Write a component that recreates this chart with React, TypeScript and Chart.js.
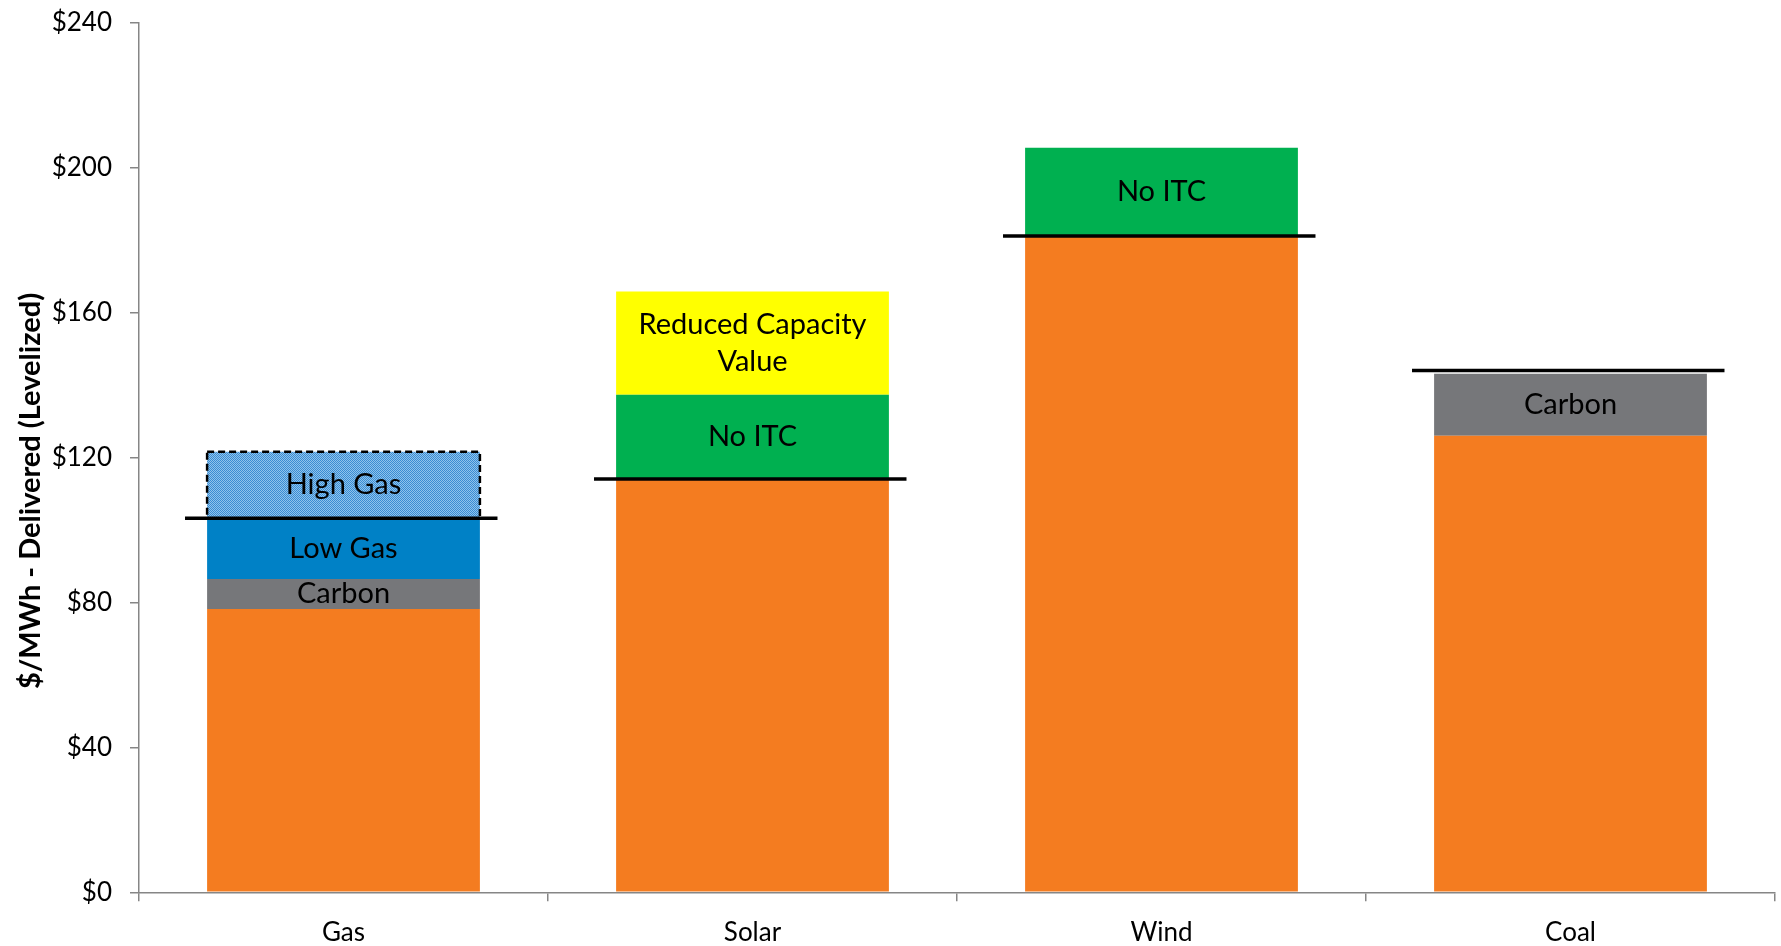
import React, { useEffect, useRef } from "react";
import { Chart, registerables } from "chart.js";

Chart.register(...registerables);

// ---- data ----
const categories = ["Gas", "Solar", "Wind", "Coal"];
const baseCost = [78.2, 114.1, 181.1, 126.0];
const carbonAdder = [8.3, null, null, 17.1];
const lowGasAdder = [16.7, null, null, null];
const highGasAdder = [18.4, null, null, null];
const noItcAdder = [null, 23.2, 24.4, null];
const reducedCapacityAdder = [null, 28.5, null, null];
const referenceLine = [103.2, 114.1, 181.1, 144.0];
const yMin = 0;
const yMax = 240;
const yStep = 40;
const yTitle = "$/MWh - Delivered (Levelized)";
const seriesNames = ["Base", "Carbon", "Low Gas", "High Gas", "No ITC", "Reduced Capacity"];
const segmentText: (string[] | null)[] = [
  null,
  ["Carbon"],
  ["Low Gas"],
  ["High Gas"],
  ["No ITC"],
  ["Reduced Capacity", "Value"],
];

const FONT = "Lato, 'Open Sans', sans-serif";
const AXIS_COLOR = "#868686";

function makePattern(): CanvasPattern | string {
  const c = document.createElement("canvas");
  c.width = 2;
  c.height = 2;
  const g = c.getContext("2d");
  if (!g) return "#5fa6df";
  g.fillStyle = "#8fc3ec";
  g.fillRect(0, 0, 2, 2);
  g.fillStyle = "#3a8cd3";
  g.fillRect(0, 0, 1, 1);
  g.fillRect(1, 1, 1, 1);
  const p = g.createPattern(c, "repeat");
  return p || "#5fa6df";
}

const overlayPlugin = {
  id: "overlay",
  afterDatasetsDraw(chart: any) {
    const ctx = chart.ctx as CanvasRenderingContext2D;
    const xs = chart.scales.x;
    const ys = chart.scales.y;
    const area = chart.chartArea;

    // dashed border around High Gas segment
    const hgMeta = chart.getDatasetMeta(3);
    hgMeta.data.forEach((el: any, i: number) => {
      const v = chart.data.datasets[3].data[i];
      if (v == null) return;
      const left = el.x - el.width / 2;
      ctx.save();
      ctx.strokeStyle = "#000";
      ctx.lineWidth = 2.5;
      ctx.setLineDash([7, 4]);
      ctx.strokeRect(left, el.y, el.width, el.base - el.y);
      ctx.restore();
    });

    // reference lines
    const catW = xs.getPixelForValue(1) - xs.getPixelForValue(0);
    ctx.save();
    ctx.strokeStyle = "#000";
    ctx.lineWidth = 3.5;
    referenceLine.forEach((v, i) => {
      const cx = xs.getPixelForValue(i);
      const y = ys.getPixelForValue(v);
      ctx.beginPath();
      ctx.moveTo(cx - catW * 0.3875, y);
      ctx.lineTo(cx + catW * 0.3765, y);
      ctx.stroke();
    });
    ctx.restore();

    // segment labels
    ctx.save();
    ctx.fillStyle = "#000";
    ctx.font = `29px ${FONT}`;
    ctx.textAlign = "center";
    ctx.textBaseline = "middle";
    chart.data.datasets.forEach((ds: any, di: number) => {
      const lines = segmentText[di];
      if (!lines) return;
      const meta = chart.getDatasetMeta(di);
      meta.data.forEach((el: any, i: number) => {
        if (ds.data[i] == null) return;
        const cy = (el.y + el.base) / 2;
        const lh = 37;
        const start = cy - ((lines.length - 1) * lh) / 2;
        lines.forEach((t, k) => ctx.fillText(t, el.x, start + k * lh));
      });
    });
    ctx.restore();

    // y axis title
    ctx.save();
    ctx.fillStyle = "#000";
    ctx.font = `bold 29px ${FONT}`;
    ctx.textAlign = "center";
    ctx.textBaseline = "middle";
    ctx.translate(31, area.top + (area.bottom - area.top) * 0.5385);
    ctx.rotate(-Math.PI / 2);
    ctx.fillText(yTitle, 0, 0);
    ctx.restore();
  },
};

export default function App() {
  const ref = useRef<HTMLCanvasElement | null>(null);

  useEffect(() => {
    document.body.style.margin = "0";
    const canvas = ref.current;
    if (!canvas) return;
    const pattern = makePattern();
    const colors = ["#f47c20", "#76777a", "#0081c6", pattern, "#00b050", "#ffff00"];
    const seriesData = [baseCost, carbonAdder, lowGasAdder, highGasAdder, noItcAdder, reducedCapacityAdder];

    const chart = new Chart(canvas, {
      type: "bar",
      data: {
        labels: categories,
        datasets: seriesData.map((d, i) => ({
          label: seriesNames[i],
          data: d as any,
          backgroundColor: colors[i] as any,
          borderWidth: 0,
          barPercentage: 0.667,
          categoryPercentage: 1,
          stack: "s",
        })),
      },
      options: {
        responsive: false,
        animation: false,
        layout: { padding: { top: 22.7, right: 6, bottom: 0, left: 0 } },
        plugins: {
          legend: { display: false },
          tooltip: { enabled: false },
          title: { display: false },
        },
        scales: {
          x: {
            stacked: true,
            grid: {
              offset: true,
              drawOnChartArea: false,
              drawTicks: true,
              tickLength: 9,
              color: AXIS_COLOR,
              lineWidth: 1.5,
            },
            border: { color: AXIS_COLOR, width: 1.5 },
            ticks: {
              color: "#000",
              font: { family: FONT, size: 26 },
              padding: 16,
            },
            afterFit: (s: any) => {
              s.height = 53.7;
              s.paddingLeft = 0;
              s.paddingRight = 0;
            },
          },
          y: {
            stacked: true,
            min: yMin,
            max: yMax,
            ticks: {
              stepSize: yStep,
              color: "#000",
              font: { family: FONT, size: 26 },
              padding: 18,
              callback: (v: any) => "$" + v,
            },
            grid: {
              drawOnChartArea: false,
              drawTicks: true,
              tickLength: 9,
              color: AXIS_COLOR,
              lineWidth: 1.5,
            },
            border: { color: AXIS_COLOR, width: 1.5 },
            title: { display: false },
            afterFit: (s: any) => {
              s.width = 139;
              s.paddingTop = 0;
              s.paddingBottom = 0;
            },
          },
        },
      },
      plugins: [overlayPlugin],
    });
    return () => chart.destroy();
  }, []);

  return (
    <div style={{ position: "fixed", left: 0, top: 0, width: 1781, height: 946, background: "#fff" }}>
      <canvas ref={ref} width={1781} height={946} style={{ width: 1781, height: 946, display: "block" }} />
    </div>
  );
}
